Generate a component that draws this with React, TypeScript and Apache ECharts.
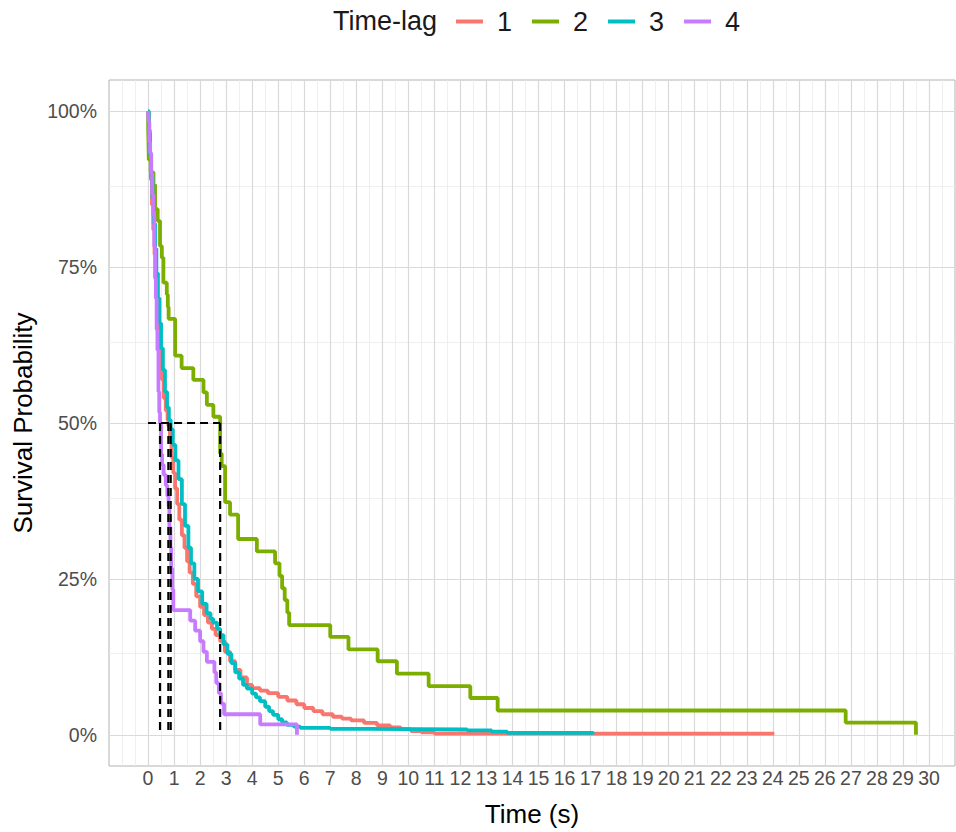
import React, { useEffect, useRef } from "react";
import * as echarts from "echarts";

const FONT = "'Liberation Sans', Arial, Helvetica, sans-serif";

const legendTitle = "Time-lag";
const lagNames = ["1", "2", "3", "4"];
const lagColors = ["#F8766D", "#7CAE00", "#00BFC4", "#C77CFF"];

// Lag 1 (red)
const timeLag1 = [0, 0.03, 0.07, 0.11, 0.15, 0.2, 0.25, 0.29, 0.34, 0.39, 0.45, 0.52, 0.6, 0.68, 0.75, 0.78, 0.84, 0.9, 0.97, 1.04, 1.12, 1.2, 1.3, 1.4, 1.5, 1.6, 1.72, 1.85, 2.0, 2.15, 2.3, 2.45, 2.6, 2.77, 2.95, 3.15, 3.35, 3.55, 3.8, 4.0, 4.3, 4.6, 5.0, 5.35, 5.7, 6.0, 6.35, 6.7, 7.1, 7.45, 7.8, 8.3, 8.8, 9.3, 9.7, 10.1, 10.5, 11.0, 24.06];
const survLag1 = [1, 0.97, 0.93, 0.89, 0.85, 0.81, 0.77, 0.73, 0.69, 0.65, 0.61, 0.57, 0.54, 0.52, 0.505, 0.495, 0.47, 0.445, 0.42, 0.395, 0.37, 0.345, 0.32, 0.3, 0.278, 0.26, 0.242, 0.222, 0.205, 0.192, 0.18, 0.17, 0.16, 0.15, 0.133, 0.118, 0.104, 0.092, 0.08, 0.075, 0.071, 0.067, 0.061, 0.055, 0.049, 0.043, 0.038, 0.033, 0.029, 0.026, 0.023, 0.019, 0.015, 0.012, 0.009, 0.006, 0.004, 0.002, 0.0015];

// Lag 2 (green)
const timeLag2 = [0, 0.01, 0.03, 0.1, 0.21, 0.27, 0.37, 0.46, 0.53, 0.59, 0.72, 0.76, 0.79, 1.04, 1.29, 1.74, 2.13, 2.26, 2.51, 2.77, 2.83, 2.96, 3.15, 3.46, 4.18, 4.88, 5.05, 5.15, 5.25, 5.35, 5.42, 7.0, 7.7, 8.82, 9.56, 10.78, 12.38, 13.43, 26.8, 29.5];
const survLag2 = [1, 0.961, 0.922, 0.902, 0.882, 0.843, 0.824, 0.784, 0.765, 0.725, 0.706, 0.686, 0.667, 0.608, 0.588, 0.569, 0.549, 0.529, 0.51, 0.451, 0.431, 0.373, 0.353, 0.314, 0.294, 0.275, 0.255, 0.235, 0.216, 0.196, 0.176, 0.157, 0.137, 0.118, 0.098, 0.078, 0.059, 0.039, 0.0196, 0];

// Lag 3 (teal)
const timeLag3 = [0, 0.03, 0.08, 0.12, 0.17, 0.22, 0.27, 0.32, 0.38, 0.44, 0.5, 0.57, 0.65, 0.73, 0.8, 0.87, 0.95, 1.05, 1.17, 1.3, 1.42, 1.55, 1.65, 1.78, 1.92, 2.08, 2.25, 2.4, 2.5, 2.65, 2.77, 2.9, 3.05, 3.2, 3.35, 3.5, 3.65, 3.8, 4.0, 4.15, 4.3, 4.5, 4.65, 4.8, 5.0, 5.15, 5.33, 5.6, 5.85, 7.0, 8.5, 12.26, 13.2, 13.8, 17.1];
const survLag3 = [1, 0.965, 0.93, 0.895, 0.86, 0.82, 0.78, 0.74, 0.7, 0.66, 0.62, 0.585, 0.55, 0.525, 0.505, 0.49, 0.465, 0.44, 0.41, 0.37, 0.335, 0.3, 0.275, 0.25, 0.23, 0.21, 0.195, 0.186, 0.18, 0.17, 0.16, 0.145, 0.13, 0.115, 0.1, 0.09, 0.08, 0.074, 0.066, 0.06, 0.054, 0.045, 0.038, 0.032, 0.025, 0.02, 0.016, 0.013, 0.011, 0.0096, 0.0085, 0.007, 0.005, 0.003, 0.0016];

// Lag 4 (purple)
const timeLag4 = [0, 0.02, 0.05, 0.08, 0.12, 0.16, 0.2, 0.24, 0.27, 0.3, 0.33, 0.36, 0.4, 0.43, 0.46, 0.5, 0.54, 0.6, 0.68, 0.74, 0.79, 0.82, 0.86, 0.89, 0.93, 0.97, 1.62, 1.81, 2.0, 2.13, 2.26, 2.55, 2.62, 2.72, 2.8, 2.92, 4.31, 5.72];
const survLag4 = [1, 0.983, 0.95, 0.933, 0.9, 0.867, 0.833, 0.783, 0.733, 0.7, 0.65, 0.617, 0.55, 0.517, 0.5, 0.45, 0.433, 0.417, 0.4, 0.383, 0.367, 0.333, 0.3, 0.267, 0.233, 0.2, 0.183, 0.167, 0.15, 0.133, 0.117, 0.1, 0.083, 0.067, 0.05, 0.033, 0.0167, 0];

// Median survival times (dashed guides)
const medianTimes = [0.78, 2.77, 0.87, 0.46];
const medianLevel = 0.5;

const xTicks = [0, 1, 2, 3, 4, 5, 6, 7, 8, 9, 10, 11, 12, 13, 14, 15, 16, 17, 18, 19, 20, 21, 22, 23, 24, 25, 26, 27, 28, 29, 30];
const xMinorGrid = [-1, -0.5];
const yTicks = [0, 0.25, 0.5, 0.75, 1];
const yTickLabels = ["0%", "25%", "50%", "75%", "100%"];

const allTimes = [timeLag1, timeLag2, timeLag3, timeLag4];
const allSurv = [survLag1, survLag2, survLag3, survLag4];

export default function App() {
  const ref = useRef<HTMLDivElement>(null);
  useEffect(() => {
    if (!ref.current) return;
    const chart = echarts.init(ref.current, null, { renderer: "svg" });

    const minorStyle = { color: "#ebebeb", width: 0.8, type: "solid" as const };
    const majorStyle = { color: "#d9d9d9", width: 1.2, type: "solid" as const };
    const gridLines: any[] = [];
    const xMinor = [...xMinorGrid];
    for (let i = 0; i < xTicks.length; i++) xMinor.push(xTicks[i] + 0.5);
    xMinor.forEach((v) => gridLines.push({ xAxis: v, lineStyle: minorStyle }));
    for (let i = 0; i < yTicks.length - 1; i++)
      gridLines.push({ yAxis: (yTicks[i] + yTicks[i + 1]) / 2, lineStyle: minorStyle });
    xTicks.forEach((v) => gridLines.push({ xAxis: v, lineStyle: majorStyle }));
    yTicks.forEach((v) => gridLines.push({ yAxis: v, lineStyle: majorStyle }));

    const series: any[] = [
      {
        name: "grid",
        type: "line",
        data: [],
        silent: true,
        z: 1,
        markLine: {
          silent: true,
          z: 1,
          symbol: ["none", "none"],
          label: { show: false },
          emphasis: { disabled: true },
          data: gridLines,
        },
      },
    ];

    lagNames.forEach((name, i) => {
      series.push({
        name,
        type: "line",
        step: "end",
        showSymbol: false,
        symbol: "none",
        silent: true,
        z: 3 + i,
        lineStyle: { color: lagColors[i], width: 3.8 },
        itemStyle: { color: lagColors[i] },
        data: allTimes[i].map((t, j) => [t, allSurv[i][j]]),
      });
    });

    const dashStyle = { color: "#000000", width: 2.2, type: [8, 5] as any };
    const maxMedian = Math.max(...medianTimes);
    series.push({
      name: "medianH",
      type: "line",
      showSymbol: false,
      symbol: "none",
      silent: true,
      z: 10,
      lineStyle: dashStyle,
      data: [
        [0, medianLevel],
        [maxMedian, medianLevel],
      ],
    });
    medianTimes.forEach((m, i) => {
      series.push({
        name: "medianV" + i,
        type: "line",
        showSymbol: false,
        symbol: "none",
        silent: true,
        z: 10,
        lineStyle: dashStyle,
        data: [
          [m, medianLevel],
          [m, 0],
        ],
      });
    });

    const option: any = {
      animation: false,
      backgroundColor: "#ffffff",
      textStyle: { fontFamily: FONT },
      grid: {
        left: 109,
        top: 80,
        width: 846,
        height: 687,
        show: true,
        borderColor: "#b3b3b3",
        borderWidth: 1,
        backgroundColor: "transparent",
        containLabel: false,
      },
      legend: {
        data: lagNames,
        left: 451,
        top: 3,
        icon: "rect",
        itemWidth: 27,
        itemHeight: 4,
        itemGap: 20,
        selectedMode: false,
        textStyle: {
          fontSize: 27,
          color: "#1a1a1a",
          fontFamily: FONT,
          padding: [0, 0, 0, 9],
        },
      },
      graphic: [
        {
          type: "text",
          left: 333,
          top: 7,
          style: {
            text: legendTitle,
            fontSize: 27,
            fill: "#1a1a1a",
            fontFamily: FONT,
          },
        },
      ],
      xAxis: {
        type: "value",
        min: -1.5,
        max: 31,
        axisLine: { show: false },
        splitLine: { show: false },
        axisTick: {
          show: true,
          customValues: xTicks,
          length: 5,
          lineStyle: { color: "#4d4d4d", width: 1 },
        },
        axisLabel: {
          customValues: xTicks,
          fontSize: 19.5,
          color: "#4d4d4d",
          margin: 2,
          fontFamily: FONT,
          formatter: (v: number) => String(v),
        },
        name: "Time (s)",
        nameLocation: "middle",
        nameGap: 35,
        nameTextStyle: { fontSize: 26, color: "#000000", fontFamily: FONT },
      },
      yAxis: {
        type: "value",
        min: -0.05,
        max: 1.05,
        axisLine: { show: false },
        splitLine: { show: false },
        axisTick: {
          show: true,
          customValues: yTicks,
          length: 5,
          lineStyle: { color: "#4d4d4d", width: 1 },
        },
        axisLabel: {
          customValues: yTicks,
          fontSize: 19.5,
          color: "#4d4d4d",
          margin: 12,
          fontFamily: FONT,
          formatter: (v: number) => {
            const idx = yTicks.findIndex((t) => Math.abs(t - v) < 1e-9);
            return idx >= 0 ? yTickLabels[idx] : Math.round(v * 100) + "%";
          },
        },
        name: "Survival Probability",
        nameLocation: "middle",
        nameGap: 67,
        nameRotate: 90,
        nameTextStyle: { fontSize: 26, color: "#000000", fontFamily: FONT },
      },
      series,
    };

    chart.setOption(option);
    return () => chart.dispose();
  }, []);

  return (
    <div
      ref={ref}
      style={{ position: "fixed", left: 0, top: 0, width: 956, height: 832 }}
    />
  );
}
